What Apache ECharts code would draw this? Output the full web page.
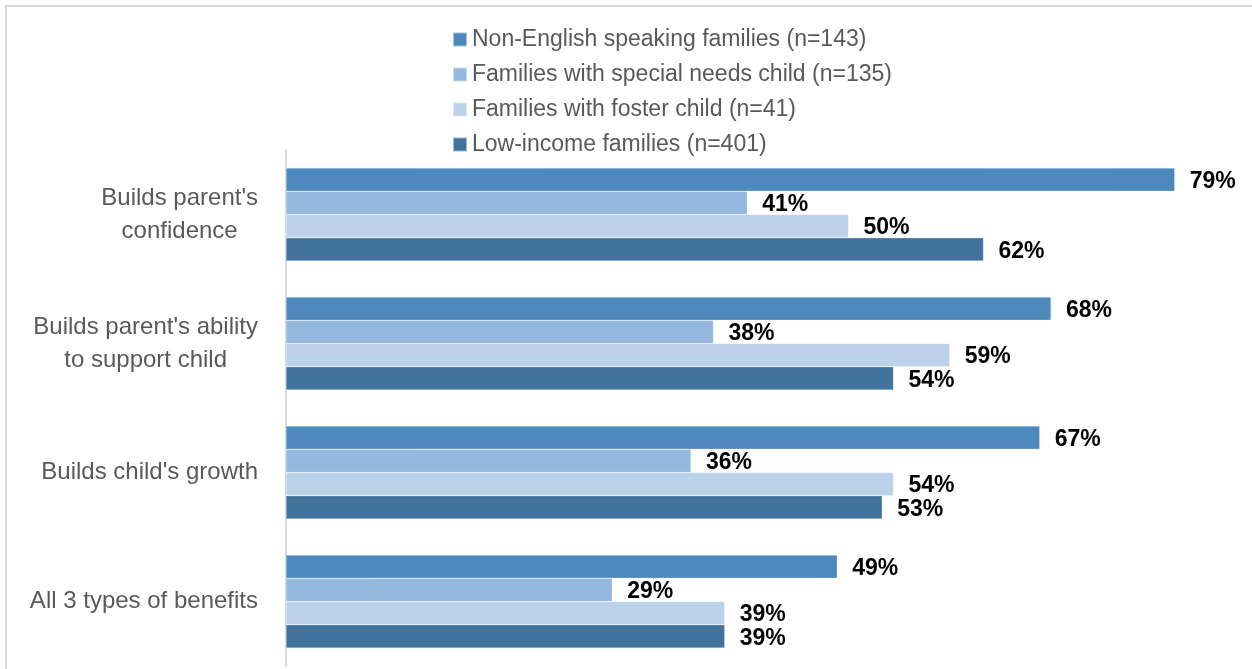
<!DOCTYPE html>
<html>
<head>
<meta charset="utf-8">
<style>
  html, body { margin: 0; padding: 0; background: #fff; }
  #chart { width: 1252px; height: 669px; }
</style>
<script src="https://cdn.jsdelivr.net/npm/echarts@6/dist/echarts.min.js"></script>
</head>
<body>
<div id="chart"></div>
<script>
// Benefit categories, listed top to bottom
const categories = [
  "Builds parent's\nconfidence",
  "Builds parent's ability\nto support child",
  "Builds child's growth",
  "All 3 types of benefits"
];

// Family groups shown in the legend
const seriesNames = [
  'Non-English speaking families (n=143)',
  'Families with special needs child (n=135)',
  'Families with foster child (n=41)',
  'Low-income families (n=401)'
];

// Percent of each group reporting the benefit
const nonEnglish = [79, 68, 67, 49];
const specialNeeds = [41, 38, 36, 29];
const fosterChild = [50, 59, 54, 39];
const lowIncome = [62, 54, 53, 39];

const seriesColors = ['#4d89bc', '#95b8de', '#bcd1ea', '#42739d'];

const valueSets = [nonEnglish, specialNeeds, fosterChild, lowIncome];

const chart = echarts.init(document.getElementById('chart'), null, { renderer: 'canvas' });

const textFont = "'Liberation Sans', Arial, sans-serif";

const option = {
  backgroundColor: '#ffffff',
  animation: false,
  graphic: [{
    type: 'rect',
    shape: { x: 6, y: 6, width: 1400, height: 800 },
    style: { fill: 'none', stroke: '#d9d9d9', lineWidth: 2 },
    silent: true
  }],
  legend: {
    orient: 'vertical',
    left: 452,
    top: 28,
    padding: 0,
    itemWidth: 14,
    itemHeight: 14,
    itemGap: 12,
    icon: 'rect',
    textStyle: {
      color: '#595959',
      fontSize: 23,
      fontFamily: textFont
    },
    data: seriesNames
  },
  grid: {
    left: 286,
    top: 150,
    width: 900,
    height: 516,
    containLabel: false
  },
  xAxis: {
    type: 'value',
    min: 0,
    max: 80,
    show: false
  },
  yAxis: {
    type: 'category',
    inverse: true,
    data: categories,
    axisLine: { show: true, lineStyle: { color: '#d9d9d9', width: 2 } },
    axisTick: { show: false },
    axisLabel: {
      margin: 28,
      color: '#595959',
      fontSize: 24,
      fontFamily: textFont,
      lineHeight: 33,
      formatter: function (v) {
        return v.split('\n').map(function (line) { return '{c|' + line + '}'; }).join('\n');
      },
      rich: {
        c: {
          align: 'center',
          color: '#595959',
          fontSize: 24,
          lineHeight: 33,
          fontFamily: textFont
        }
      }
    }
  },
  series: seriesNames.map(function (name, i) {
    return {
      name: name,
      type: 'bar',
      data: valueSets[i],
      barGap: '0%',
      barCategoryGap: '28%',
      itemStyle: { color: seriesColors[i], borderColor: 'rgba(255,255,255,0.5)', borderWidth: 0.5 },
      label: {
        show: true,
        position: 'right',
        distance: 15,
        offset: [0, 2],
        formatter: '{c}%',
        color: '#000000',
        fontWeight: 'bold',
        fontSize: 23,
        fontFamily: textFont
      }
    };
  })
};

chart.setOption(option);
</script>
</body>
</html>
